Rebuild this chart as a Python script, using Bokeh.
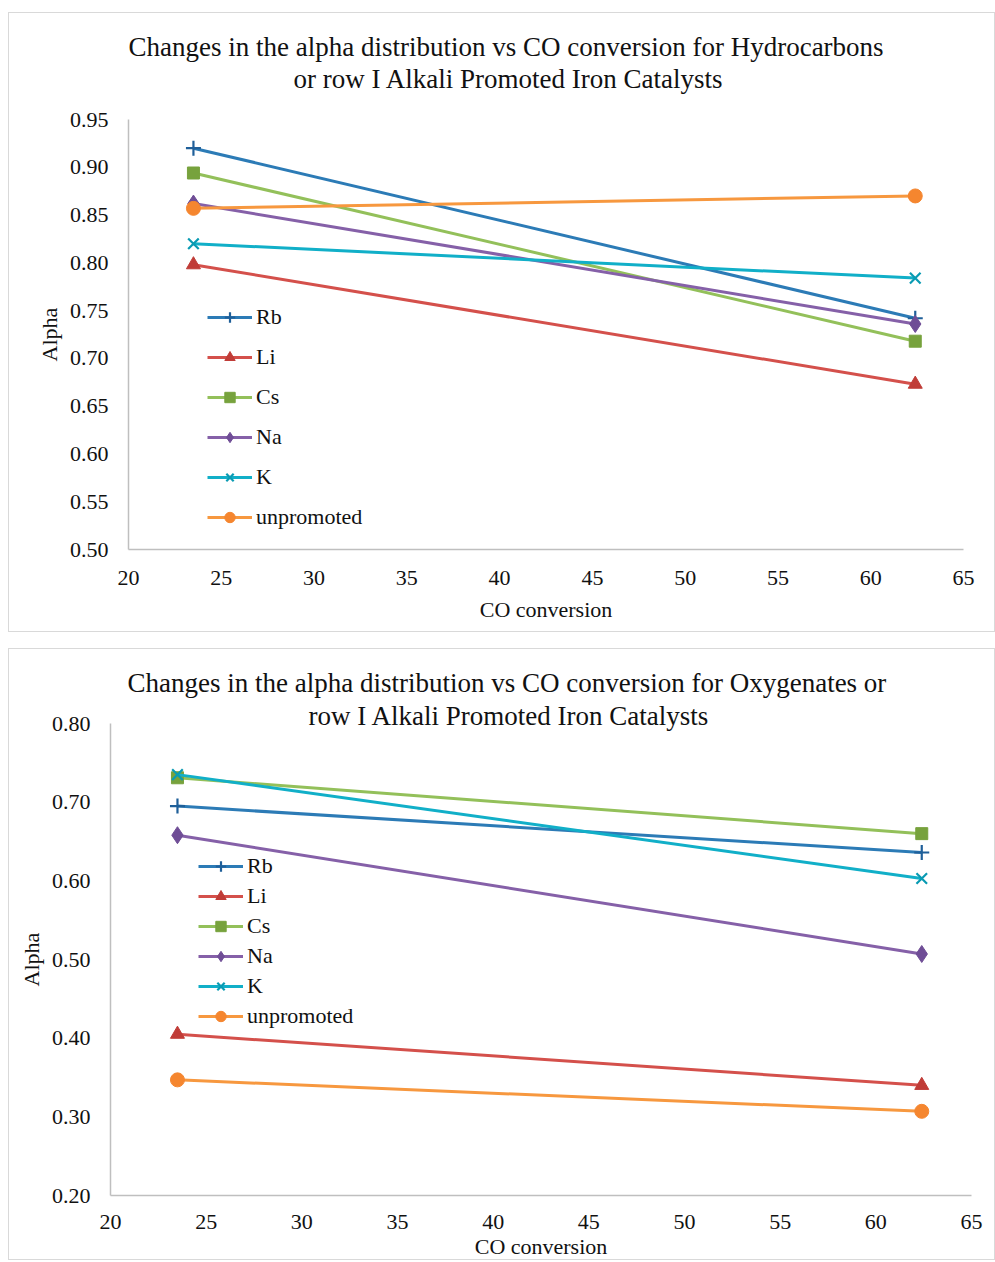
from bokeh.plotting import figure
from bokeh.models import Range1d, Legend, LegendItem, FixedTicker, PrintfTickFormatter, Title
from bokeh.embed import file_html
from bokeh.resources import INLINE

# ---------------- data ----------------
co_conversion = [23.5, 62.4]
series_names = ["Rb", "Li", "Cs", "Na", "K", "unpromoted"]

# Hydrocarbons alpha
hc_rb = [0.920, 0.742]
hc_li = [0.798, 0.673]
hc_cs = [0.894, 0.718]
hc_na = [0.862, 0.736]
hc_k = [0.820, 0.784]
hc_unpromoted = [0.857, 0.870]

# Oxygenates alpha
ox_rb = [0.695, 0.636]
ox_li = [0.405, 0.340]
ox_cs = [0.731, 0.660]
ox_na = [0.658, 0.507]
ox_k = [0.735, 0.603]
ox_unpromoted = [0.347, 0.307]

x_ticks = [20, 25, 30, 35, 40, 45, 50, 55, 60, 65]
hc_y_ticks = [0.50, 0.55, 0.60, 0.65, 0.70, 0.75, 0.80, 0.85, 0.90, 0.95]
ox_y_ticks = [0.20, 0.30, 0.40, 0.50, 0.60, 0.70, 0.80]

title_hc = ["Changes in the alpha distribution vs CO conversion for Hydrocarbons",
            "or row I Alkali Promoted Iron Catalysts"]
title_ox = ["Changes in the alpha distribution vs CO conversion for Oxygenates or",
            "row I Alkali Promoted Iron Catalysts"]

# ---------------- styles ----------------
FONT = "Liberation Serif"
TXT = "#111111"
line_colors = ["#2c7bb6", "#d4504b", "#93c05a", "#8560a8", "#11afc8", "#f7983f"]
marker_colors = ["#1f5f99", "#c03c37", "#77a23d", "#6f4d96", "#0a9bb3", "#f5862f"]
markers = ["cross", "triangle", "square", "diamond", "x", "circle"]
marker_sizes = [15, 14, 12, 17, 15, 14]


def make_chart(height, margin, y_lo, y_hi, y_ticks, series, titles, borders,
               title_offsets, title_standoffs, legend_loc, legend_spacing,
               x_tick_standoff, x_label_standoff):
    p = figure(width=987, height=height, x_range=Range1d(20, 65), y_range=Range1d(y_lo, y_hi),
               output_backend="svg", toolbar_location=None,
               min_border_left=borders[0], min_border_right=borders[1],
               min_border_top=borders[2], min_border_bottom=borders[3],
               styles={"border": "1px solid #d9d9d9"})
    p.margin = margin
    p.outline_line_color = None
    p.xgrid.visible = False
    p.ygrid.visible = False

    for ax in (p.xaxis[0], p.yaxis[0]):
        ax.axis_line_color = "#bfbfbf"
        ax.axis_line_width = 1.5
        ax.major_tick_line_color = None
        ax.minor_tick_line_color = None
        ax.major_tick_out = 0
        ax.major_tick_in = 0
        ax.minor_tick_out = 0
        ax.minor_tick_in = 0
        ax.major_label_text_font = FONT
        ax.major_label_text_font_size = "22px"
        ax.major_label_text_color = TXT
        ax.axis_label_text_font = FONT
        ax.axis_label_text_font_size = "22px"
        ax.axis_label_text_font_style = "normal"
        ax.axis_label_text_color = TXT

    p.xaxis.ticker = FixedTicker(ticks=x_ticks)
    p.yaxis.ticker = FixedTicker(ticks=y_ticks)
    p.yaxis.formatter = PrintfTickFormatter(format="%.2f")
    p.xaxis.axis_label = "CO conversion"
    p.yaxis.axis_label = "Alpha"
    p.xaxis.major_label_standoff = x_tick_standoff
    p.yaxis.major_label_standoff = 20
    p.xaxis.axis_label_standoff = x_label_standoff
    p.yaxis.axis_label_standoff = 5

    items = []
    for name, ys, lc, mc, mk, ms in zip(series_names, series, line_colors, marker_colors, markers, marker_sizes):
        ln = p.line(co_conversion, ys, line_color=lc, line_width=3)
        if mk in ("cross", "x"):
            sc = p.scatter(co_conversion, ys, marker=mk, size=ms, line_color=mc, line_width=2.2,
                           fill_color=None)
        else:
            sc = p.scatter(co_conversion, ys, marker=mk, size=ms, line_color=mc, fill_color=mc)
        items.append(LegendItem(label=name, renderers=[ln, sc]))

    legend = Legend(items=items, location=legend_loc, orientation="vertical",
                    background_fill_alpha=0, border_line_color=None,
                    padding=0, margin=0, spacing=legend_spacing,
                    glyph_width=45, glyph_height=26, label_height=26, label_standoff=4,
                    label_text_font=FONT, label_text_font_size="22px", label_text_color=TXT)
    p.add_layout(legend, "center")

    # titles: first added sits closest to the plot frame
    for txt, off, so in reversed(list(zip(titles, title_offsets, title_standoffs))):
        p.add_layout(Title(text=txt, align="left", offset=off, standoff=so,
                           text_font=FONT, text_font_size="27px", text_font_style="normal",
                           text_color=TXT), "above")
    return p


p1 = make_chart(620, (12, 0, 0, 8), 0.5, 0.95, hc_y_ticks,
                [hc_rb, hc_li, hc_cs, hc_na, hc_k, hc_unpromoted],
                title_hc, (119, 33, 106, 84), (0, 165), (-52, 52), (79, 19), 14, 21, 9)

p2 = make_chart(612, (16, 0, 0, 8), 0.2, 0.8, ox_y_ticks,
                [ox_rb, ox_li, ox_cs, ox_na, ox_k, ox_unpromoted],
                title_ox, (101, 25, 74, 66), (17, 198), (16, -14), (88, 166), 4, 19, 2)

open("out.html", "w").write(file_html([p1, p2], INLINE))
